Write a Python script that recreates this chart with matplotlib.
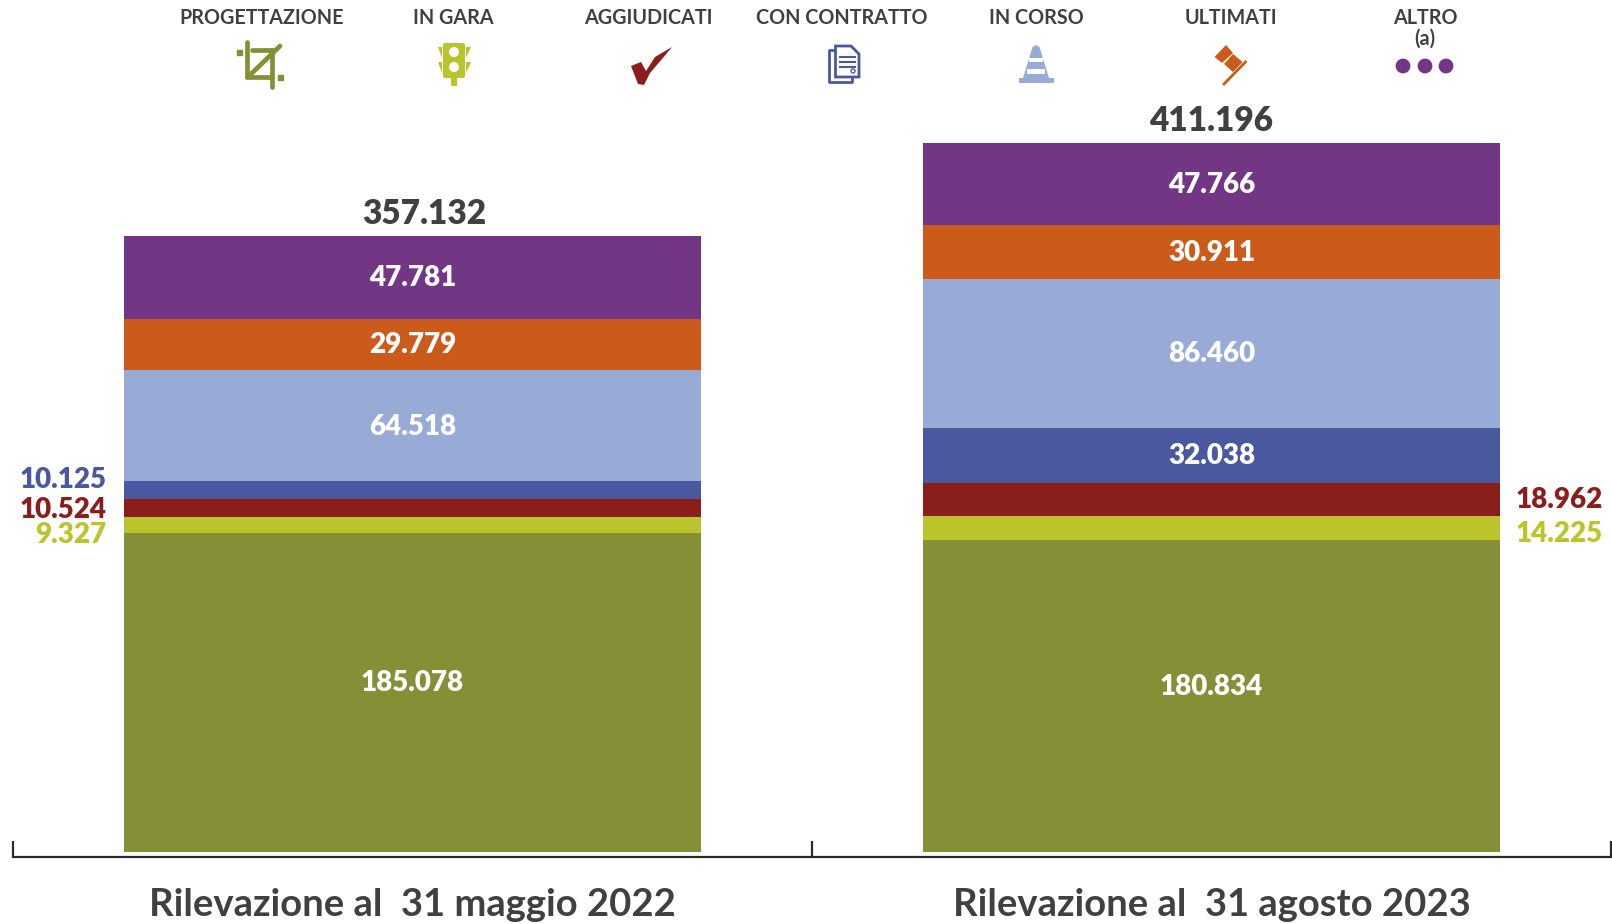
import matplotlib
matplotlib.use('Agg')
import matplotlib.pyplot as plt
from matplotlib.patches import Circle, FancyBboxPatch, Polygon, Rectangle

# Data
dates = ['Rilevazione al  31 maggio 2022', 'Rilevazione al  31 agosto 2023']
stati = ['PROGETTAZIONE', 'IN GARA', 'AGGIUDICATI', 'CON CONTRATTO', 'IN CORSO', 'ULTIMATI', 'ALTRO\n(a)']
valori_2022 = [185078, 9327, 10524, 10125, 64518, 29779, 47781]
valori_2023 = [180834, 14225, 18962, 32038, 86460, 30911, 47766]
colori = ['#858F36', '#BCC42C', '#8A1E1A', '#4A589F', '#98ABD6', '#CC5A1B', '#723685']

TEXT = '#404040'
plt.rcParams['font.family'] = ['Lato', 'DejaVu Sans']


def fmt(v):
    return f'{v:,}'.replace(',', '.')


def draw_bar(ax, x, valori):
    bottom = 0
    mids = []
    for v, c in zip(valori, colori):
        ax.bar(x, v, 0.722, bottom=bottom, color=c, linewidth=0)
        mids.append(bottom + v / 2)
        bottom += v
    # total above the stack
    ax.annotate(fmt(bottom), (x, bottom), xytext=(12 if x == 0 else 0, 22), textcoords='offset pixels',
                ha='center', va='center', fontsize=24, fontweight='heavy', color=TEXT)
    return mids


def inner_labels(ax, x, valori, mids, idx, dy_big):
    for i in idx:
        dy = dy_big if i == 0 else -1
        ax.annotate(fmt(valori[i]), (x, mids[i]), xytext=(0, dy), textcoords='offset pixels',
                    ha='center', va='center', fontsize=20, fontweight='heavy', color='white')


def draw_icons(ov):
    # crop
    c = colori[0]
    for p in [((247, 42), (247, 77)), ((247, 77), (272, 77)), ((252, 50), (272, 50)), ((272, 50), (272, 87)),
              ((250, 75), (280, 46))]:
        ov.plot(*zip(*p), color=c, lw=3.4, solid_capstyle='round')
    ov.add_patch(Rectangle((237, 49.5), 5, 5, color=c))
    ov.add_patch(Rectangle((278, 74.5), 5, 5, color=c))

    # traffic light
    c = colori[1]
    ov.add_patch(FancyBboxPatch((445, 45), 18, 31, boxstyle='round,pad=2', color=c, lw=0))
    ov.add_patch(Rectangle((451, 76), 6, 10, color=c, lw=0))
    for y in (47, 62):
        ov.add_patch(Polygon([(437.5, y), (442, y), (442, y + 11)], color=c, lw=0))
        ov.add_patch(Polygon([(470.5, y), (466, y), (466, y + 11)], color=c, lw=0))
    for y in (52, 67):
        ov.add_patch(Circle((454, y), 5, color='white', lw=0))

    # check mark
    ov.add_patch(Polygon([(631, 66), (641, 62), (646, 71), (655, 57), (672, 47), (662, 59), (650, 73), (644, 85),
                          (638, 84)], color=colori[2], lw=0))

    # document
    c = colori[3]
    ov.add_patch(FancyBboxPatch((830, 51), 22, 31, boxstyle='round,pad=0.5', fc='white', ec=c, lw=2))
    ov.add_patch(Polygon([(835.5, 46), (851, 46), (859, 54), (859, 77), (835.5, 77)], fc='white', ec=c, lw=2))
    for y in (57, 62, 67):
        ov.plot([840, 855], [y, y], color=c, lw=1.5)
    ov.add_patch(Circle((853, 71), 2, fc='white', ec=c, lw=1))

    # road cone
    c = colori[4]
    ov.add_patch(Polygon([(1032.5, 47), (1036, 45), (1039.5, 47), (1049, 78), (1023, 78)], color=c, lw=0))
    ov.add_patch(Rectangle((1018.5, 78), 35.5, 5, color=c, lw=0))
    ov.add_patch(Rectangle((1029, 58), 14, 4, color='white', lw=0))
    ov.add_patch(Rectangle((1027, 69), 18, 5, color='white', lw=0))

    # gavel
    c = colori[5]
    ov.add_patch(Polygon([(1226, 45), (1214.5, 57), (1222, 63), (1233, 53)], color=c, lw=0))
    ov.add_patch(Polygon([(1233, 54), (1224, 64), (1233, 72), (1242.5, 62)], color=c, lw=0))
    ov.plot([1245.5, 1224], [62, 84], color=c, lw=2)

    # dots
    for x in (1403, 1425, 1446):
        ov.add_patch(Circle((x, 66), 7.4, color=colori[6], lw=0))


def main():
    fig = plt.figure(figsize=(16.12, 9.24), dpi=100)
    # axes pixels: x from 13 to 1611, y=0 at pixel 852 from the top
    ax = fig.add_axes([13 / 1612, (924 - 852) / 924, 1598 / 1612, 852 / 924])
    ax.patch.set_alpha(0)

    mids_a = draw_bar(ax, 0, valori_2022)
    mids_b = draw_bar(ax, 1, valori_2023)
    inner_labels(ax, 0, valori_2022, mids_a, [0, 4, 5, 6], 9)
    inner_labels(ax, 1, valori_2023, mids_b, [0, 3, 4, 5, 6], 9)

    # small segments are labelled at the side of the bars
    edge_a = -0.361
    for i, y in zip([3, 2, 1], [480, 510, 535]):
        ax.annotate(fmt(valori_2022[i]), (edge_a, 0), xycoords=('data', 'axes fraction'),
                    xytext=(-18, 852 - y), textcoords='offset pixels',
                    ha='right', va='center', fontsize=20, fontweight='heavy', color=colori[i])
    edge_b = 1.361
    for i, y in zip([2, 1], [500, 534]):
        ax.annotate(fmt(valori_2023[i]), (edge_b, 0), xycoords=('data', 'axes fraction'),
                    xytext=(16, 852 - y), textcoords='offset pixels',
                    ha='left', va='center', fontsize=20, fontweight='heavy', color=colori[i])

    ax.set_xlim(-0.5, 1.5)
    ax.set_ylim(0, 852 / 0.0017242)

    for s in ('top', 'left', 'right'):
        ax.spines[s].set_visible(False)
    ax.spines['bottom'].set_position(('outward', 3.6))
    ax.spines['bottom'].set_linewidth(1.6)
    ax.spines['bottom'].set_color('#2b2b2b')
    ax.set_yticks([])
    ax.set_xticks([-0.5, 0.5, 1.5])
    ax.set_xticklabels([])
    ax.tick_params(axis='x', which='major', direction='in', length=11.5, width=1.6, color='#2b2b2b')
    ax.set_xticks([0, 1], minor=True)
    ax.set_xticklabels(dates, minor=True, fontsize=27.5, fontweight='bold', color=TEXT)
    ax.tick_params(axis='x', which='minor', length=0, pad=22)

    # pixel overlay for legend
    ov = fig.add_axes([0, 0, 1, 1])
    ov.set_xlim(0, 1612)
    ov.set_ylim(924, 0)
    ov.axis('off')
    ov.patch.set_alpha(0)

    xs = [262, 453.5, 648, 842, 1036, 1231, 1425]
    for x, s in zip(xs, stati):
        ov.text(x, 7.5, s, ha='center', va='top', fontsize=14.2, fontweight='bold', color=TEXT, linespacing=1.05)
    draw_icons(ov)

    fig.savefig('out.png', dpi=100)


if __name__ == '__main__':
    main()
